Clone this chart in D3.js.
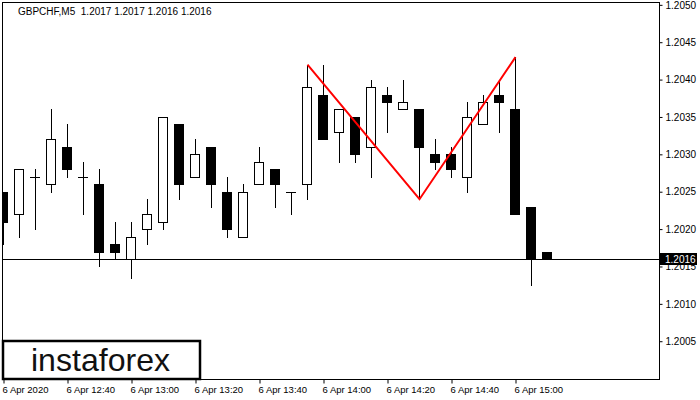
<!DOCTYPE html>
<html><head><meta charset="utf-8">
<script src="https://cdn.jsdelivr.net/npm/d3@7"></script>
<style>html,body{margin:0;padding:0;background:#fff;}svg{display:block;}</style>
</head><body><svg id="c" width="700" height="400"></svg>
<script>
const symbol = "GBPCHF,M5  1.2017 1.2017 1.2016 1.2016";
const times = ["12:20","12:25","12:30","12:35","12:40","12:45","12:50","12:55","13:00","13:05","13:10","13:15","13:20","13:25","13:30","13:35","13:40","13:45","13:50","13:55","14:00","14:05","14:10","14:15","14:20","14:25","14:30","14:35","14:40","14:45","14:50","14:55","15:00","15:05","15:10"];
const open  = [1.2025,1.2022,1.2027,1.2026,1.2031,1.2027,1.2026,1.2018,1.2016,1.2020,1.2021,1.2034,1.2027,1.2031,1.2025,1.2019,1.2026,1.2028,1.2025,1.2026,1.2038,1.2033,1.2035,1.2031,1.2038,1.2036,1.2036,1.2030,1.2030,1.2027,1.2034,1.2038,1.2036,1.2023,1.2017];
const high  = [1.2025,1.2028,1.2028,1.2036,1.2034,1.2029,1.2028,1.2021,1.2021,1.2024,1.2035,1.2034,1.2032,1.2031,1.2027,1.2026,1.2031,1.2028,1.2025,1.2042,1.2042,1.2036,1.2035,1.2040,1.2039,1.2040,1.2036,1.2032,1.2031,1.2037,1.2038,1.2040,1.2043,1.2023,1.2017];
const low   = [1.2018,1.2019,1.2020,1.2025,1.2027,1.2022,1.2015,1.2016,1.20135,1.2018,1.2020,1.2024,1.2027,1.2023,1.2019,1.2019,1.2026,1.2023,1.2022,1.2024,1.2032,1.2029,1.2029,1.2027,1.2033,1.2036,1.2024,1.2028,1.2027,1.2025,1.2034,1.2033,1.2022,1.20125,1.2016];
const close = [1.2021,1.2028,1.2027,1.2032,1.2028,1.2027,1.2017,1.2017,1.2019,1.2022,1.2035,1.2026,1.2030,1.2026,1.2020,1.2025,1.2029,1.2026,1.2025,1.2039,1.2032,1.2036,1.2030,1.2039,1.2037,1.2037,1.2031,1.2029,1.2028,1.2035,1.2037,1.2037,1.2022,1.2016,1.2016];
const patternTimes = ["13:55","14:30","15:00"];
const patternPrices = [1.2042,1.2024,1.2043];
const currentPrice = 1.2016;
const priceTicks = [1.2005,1.2010,1.2015,1.2020,1.2025,1.2030,1.2035,1.2040,1.2045,1.2050];
const timeTicks = ["12:20","12:40","13:00","13:20","13:40","14:00","14:20","14:40","15:00"];
const timeTickLabels = ["6 Apr 2020","6 Apr 12:40","6 Apr 13:00","6 Apr 13:20","6 Apr 13:40","6 Apr 14:00","6 Apr 14:20","6 Apr 14:40","6 Apr 15:00"];
const brand = "instaforex";

const parse = s => new Date("2020-04-06T" + s + ":00");
const L = 2, R = 659, T = 2, B = 379;
const x = d3.scaleTime().domain([parse("12:20"), parse("15:00")]).range([3, 515]);
const y = d3.scaleLinear().domain([1.1999946, 1.205038]).range([B, T]);
const svg = d3.select("#c");
const font = "'Liberation Sans', Arial, sans-serif";

svg.append("defs").append("clipPath").attr("id","pc").append("rect")
  .attr("x", L+1).attr("y", T+1).attr("width", R-L-1).attr("height", B-T-1);
const g = svg.append("g").attr("clip-path","url(#pc)");

const bars = times.map((t,i)=>({t:parse(t),o:open[i],h:high[i],l:low[i],c:close[i]}));
bars.forEach(d=>{
  const cx = Math.round(x(d.t));
  g.append("line").attr("x1",cx+0.5).attr("x2",cx+0.5)
    .attr("y1",Math.round(y(d.h))).attr("y2",Math.round(y(d.l))+1)
    .attr("stroke","#000").attr("stroke-width",1);
  const yt = Math.round(y(Math.max(d.o,d.c))), yb = Math.round(y(Math.min(d.o,d.c)));
  if (d.o === d.c) {
    g.append("line").attr("x1",cx-5).attr("x2",cx+5).attr("y1",yt+0.5).attr("y2",yt+0.5)
      .attr("stroke","#000").attr("stroke-width",1);
  } else if (d.c < d.o) {
    g.append("rect").attr("x",cx-5).attr("y",yt).attr("width",10).attr("height",Math.max(1,yb-yt+1)).attr("fill","#000");
  } else {
    g.append("rect").attr("x",cx-4.5).attr("y",yt+0.5).attr("width",9).attr("height",Math.max(1,yb-yt))
      .attr("fill","#fff").attr("stroke","#000").attr("stroke-width",1);
  }
});

// current price line
const py = Math.round(y(currentPrice))+0.5;
svg.append("line").attr("x1",L).attr("x2",R).attr("y1",py).attr("y2",py).attr("stroke","#000").attr("stroke-width",1);

// pattern
g.append("path").datum(patternTimes.map((t,i)=>[x(parse(t))+0.5, y(patternPrices[i])]))
  .attr("d", d3.line()).attr("fill","none").attr("stroke","#ff0000").attr("stroke-width",2);

// frame
svg.append("rect").attr("x",L+0.5).attr("y",T+0.5).attr("width",R-L).attr("height",B-T)
  .attr("fill","none").attr("stroke","#000").attr("stroke-width",1);

// right axis
const ra = svg.append("g").attr("transform",`translate(${R+0.5},0)`)
  .call(d3.axisRight(y).tickValues(priceTicks).tickFormat(d3.format(".4f")).tickSize(3).tickPadding(3));
ra.select(".domain").remove();
ra.selectAll("text").attr("font-family",font).attr("font-size",10).attr("fill","#000");
ra.selectAll("line").attr("stroke","#000");

// price label
svg.append("rect").attr("x",660).attr("y",253).attr("width",37).attr("height",12).attr("fill","#000");
svg.append("text").attr("x",665).attr("y",259).attr("dy","0.35em").attr("font-family",font).attr("font-size",10)
  .attr("fill","#fff").text(d3.format(".4f")(currentPrice));

// bottom axis
const ba = svg.append("g").attr("transform",`translate(0.5,${B+0.5})`)
  .call(d3.axisBottom(x).tickValues(timeTicks.map(parse)).tickFormat((d,i)=>timeTickLabels[i]).tickSize(4).tickPadding(3));
ba.select(".domain").remove();
ba.selectAll("line").attr("stroke","#000");
ba.selectAll("text").attr("text-anchor","start").attr("dx","-1.5").attr("font-family",font).attr("font-size",9.5).attr("fill","#000");

// title
svg.append("text").attr("x",18).attr("y",11).attr("dy","0.35em").attr("font-family",font).attr("font-size",10)
  .attr("fill","#000").attr("xml:space","preserve").style("white-space","pre").text(symbol);

// logo
svg.append("rect").attr("x",3).attr("y",341).attr("width",197).attr("height",38)
  .attr("fill","#fff").attr("stroke","#000").attr("stroke-width",2.5);
svg.append("text").attr("x",31).attr("y",371).attr("font-family",font).attr("font-size",32)
  .attr("textLength",139).attr("lengthAdjust","spacingAndGlyphs").attr("fill","#111").text(brand);
</script></body></html>
